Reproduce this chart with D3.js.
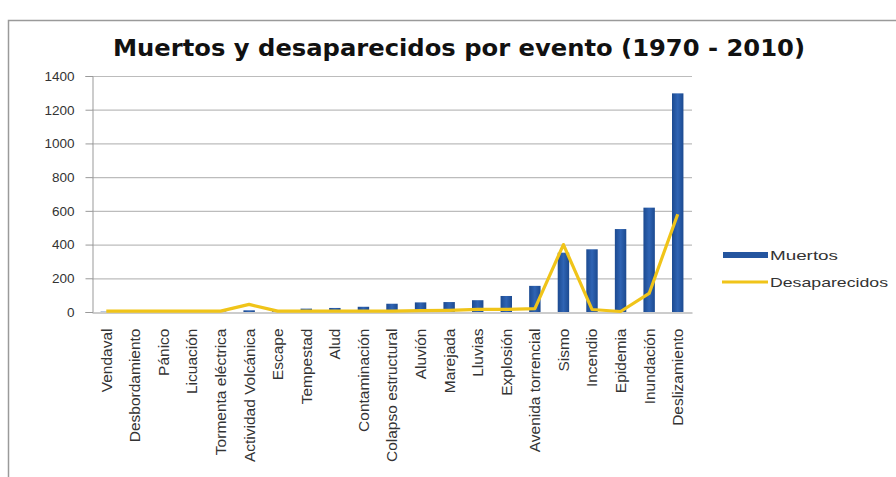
<!DOCTYPE html>
<html><head><meta charset="utf-8">
<script src="https://cdn.jsdelivr.net/npm/d3@7"></script>
<style>body{margin:0;background:#fff}svg{display:block}</style>
</head><body>
<svg id="c" width="896" height="477"></svg>
<script>
const categories = ["Vendaval","Desbordamiento","Pánico","Licuación","Tormenta eléctrica","Actividad Volcánica","Escape","Tempestad","Alud","Contaminación","Colapso estructural","Aluvión","Marejada","Lluvias","Explosión","Avenida torrencial","Sismo","Incendio","Epidemia","Inundación","Deslizamiento"];
const muertos = [2,2,2,2,3,10,5,20,24,31,49,57,59,70,95,155,352,372,492,619,1297];
const desaparecidos = [5,5,5,5,5,45,5,5,5,5,5,8,10,15,15,20,400,15,3,110,580];
const yTicks = [0,200,400,600,800,1000,1200,1400];
const seriesNames = ["Muertos","Desaparecidos"];
const title = "Muertos y desaparecidos por evento (1970 - 2010)";

const svg = d3.select("#c");
const m = {left:92, right:692, top:76, bottom:312};
const x = d3.scaleBand().domain(categories).range([m.left, m.right]).paddingInner(0.6).paddingOuter(0.3);
const y = d3.scaleLinear().domain([0,1400]).range([m.bottom, m.top]);
const font = "'Liberation Sans', Arial, sans-serif";

svg.append("rect").attr("x",8.5).attr("y",20.5).attr("width",900).attr("height",480)
  .attr("fill","none").attr("stroke","#9a9a9a").attr("stroke-width",1.5);

svg.append("text").attr("x",459).attr("y",56).attr("text-anchor","middle")
  .attr("font-family","'DejaVu Sans', sans-serif").attr("font-weight","bold").attr("font-size",23)
  .attr("textLength",692).attr("lengthAdjust","spacingAndGlyphs")
  .attr("fill","#111").text(title);

// grid
svg.append("g").selectAll("line").data(yTicks.filter(d=>d>0)).join("line")
  .attr("x1",m.left).attr("x2",m.right).attr("y1",d=>y(d)+0.5).attr("y2",d=>y(d)+0.5)
  .attr("stroke","#bcbcbc").attr("stroke-width",1.2);

// y axis
const ya = svg.append("g").attr("transform",`translate(${m.left+0.5},0)`)
  .call(d3.axisLeft(y).tickValues(yTicks).tickSize(7).tickPadding(11).tickFormat(d3.format("d")));
ya.select(".domain").attr("stroke","#999");
ya.selectAll(".tick line").attr("stroke","#999");
ya.selectAll("text").attr("font-family",font).attr("font-size",13.5).attr("fill","#333");

// bars
const barGrad = svg.append("defs").append("linearGradient").attr("id","bg");
barGrad.append("stop").attr("offset","0").attr("stop-color","#1c4a90");
barGrad.append("stop").attr("offset","0.5").attr("stop-color","#2f64b4");
barGrad.append("stop").attr("offset","1").attr("stop-color","#1c4a90");
svg.append("g").selectAll("rect").data(muertos).join("rect")
  .attr("x",(d,i)=>x(categories[i])).attr("width",x.bandwidth())
  .attr("y",d=>y(d)).attr("height",d=>y(0)-y(d)).attr("fill","url(#bg)");

// x axis
const xa = svg.append("g").attr("transform",`translate(0,${m.bottom+0.5})`)
  .call(d3.axisBottom(x).tickSize(0).tickPadding(0));
xa.select(".domain").attr("stroke","#999");
xa.selectAll("text").attr("font-family",font).attr("font-size",15.5).attr("fill","#333")
  .attr("transform","rotate(-90)").attr("text-anchor","end").attr("dx","-16").attr("dy","0.35em").attr("x",0).attr("y",0);

// line
const line = d3.line().x((d,i)=>x(categories[i])+x.bandwidth()/2).y(d=>y(d));
svg.append("path").datum(desaparecidos).attr("d",line).attr("fill","none")
  .attr("stroke","#f0c419").attr("stroke-width",3.2).attr("stroke-linejoin","round");

// legend
const lg = svg.append("g").attr("font-family",font).attr("font-size",13).attr("fill","#333");
lg.append("rect").attr("x",723).attr("y",252).attr("width",45).attr("height",6).attr("fill","#24559f");
lg.append("text").attr("x",770).attr("y",260).attr("textLength",68).attr("lengthAdjust","spacingAndGlyphs").text(seriesNames[0]);
lg.append("line").attr("x1",722).attr("x2",768).attr("y1",282).attr("y2",282).attr("stroke","#f0c419").attr("stroke-width",3);
lg.append("text").attr("x",770).attr("y",287).attr("textLength",118).attr("lengthAdjust","spacingAndGlyphs").text(seriesNames[1]);
</script>
</body></html>
